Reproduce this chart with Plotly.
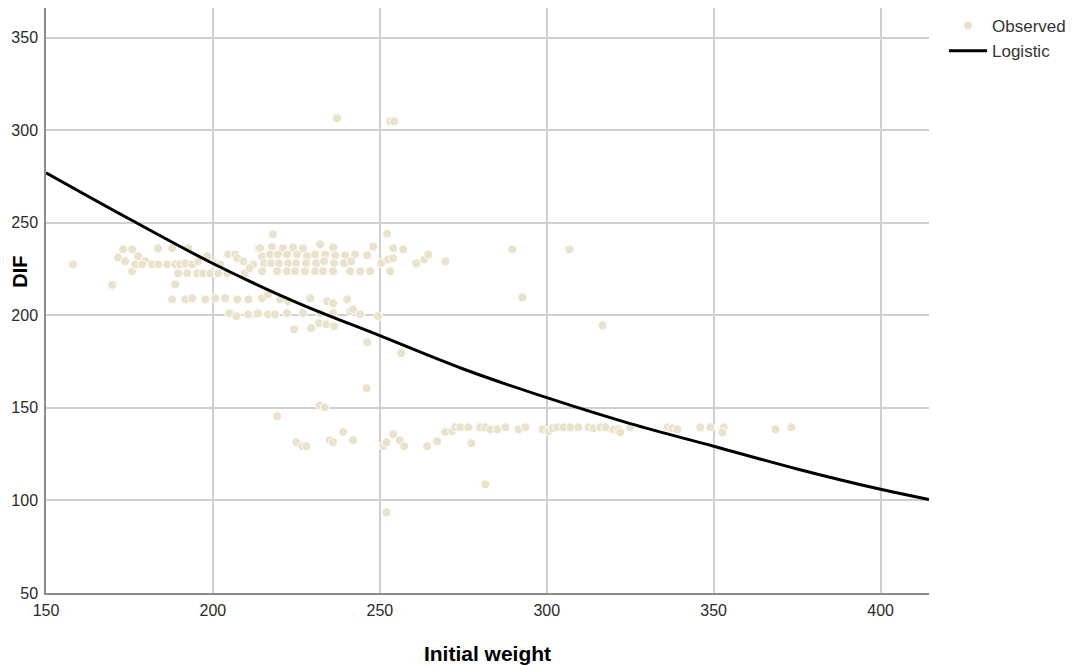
import plotly.graph_objects as go

# Observed points (Initial weight, DIF)
obs_x = [
    158.1, 169.8, 237.2, 253.1, 254.3, 289.7, 306.8, 292.7, 316.7, 256.4, 246.2, 246.0,
    219.2, 232.0, 233.5, 281.6, 252.0, 269.6,
    # upper band, left
    171.6, 173.7, 173.1, 175.8, 177.6, 179.7, 175.8, 176.7, 178.8, 181.8, 183.6, 183.6,
    187.8, 186.3, 188.7, 190.2, 191.7, 192.6, 193.8, 195.6, 198.3, 200.7, 202.2, 204.6,
    206.7, 207.3, 209.1, 212.1, 213.6, 189.6, 192.3, 195.3, 197.1, 199.2, 201.6, 204.3,
    188.7,
    # upper band, right
    218.0, 214.1, 217.7, 221.0, 224.0, 227.0, 232.1, 236.0, 214.7, 217.1, 219.5, 222.2,
    225.2, 228.2, 230.6, 233.6, 236.6, 239.6, 242.6, 246.2, 248.0, 252.2, 254.0, 257.0,
    215.3, 217.4, 219.8, 222.5, 224.9, 227.9, 230.9, 233.3, 236.3, 239.3, 241.4, 250.4,
    252.5, 254.0, 260.9, 263.3, 264.5, 214.7, 219.2, 222.2, 224.6, 227.6, 230.6, 233.0,
    236.0, 241.1, 244.1, 247.1, 253.1, 209.5, 211.0,
    # middle band
    187.8, 191.7, 193.8, 197.7, 200.7, 203.7, 207.3, 210.6, 204.9, 207.0, 210.6, 213.0,
    214.7, 216.5, 220.1, 222.5, 229.1, 234.2, 236.0, 240.2, 213.5, 216.5, 218.6, 222.2,
    227.0, 232.1, 236.0, 241.1, 244.1, 249.5, 242.0, 224.3, 229.4, 231.8, 233.9, 236.3,
    # lower band
    225.0, 226.7, 228.0, 235.0, 236.0, 239.0, 242.0, 251.0, 252.0, 254.0, 256.0, 257.3,
    264.2, 267.2, 269.6, 271.7, 272.6, 274.1, 276.5, 280.1, 281.6, 283.1, 285.2, 287.6,
    291.5, 293.6, 298.7, 300.5, 301.7, 303.2, 305.0, 307.1, 309.5, 312.5, 314.0, 316.0,
    318.2, 320.0, 277.4, 317.6, 321.5, 322.0, 325.0, 336.2, 337.6, 339.1, 346.0, 349.0,
    353.0, 352.6, 368.5, 373.3,
]
obs_y = [
    227.5, 216.5, 306.4, 304.8, 304.8, 235.6, 235.6, 209.7, 194.6, 179.5, 185.4, 160.6,
    145.5, 151.4, 150.3, 108.7, 93.6, 229.2,
    231.3, 229.2, 235.6, 235.6, 231.9, 229.2, 223.8, 227.5, 227.5, 227.5, 227.5, 236.2,
    236.2, 227.5, 227.5, 227.5, 228.0, 236.2, 227.5, 229.2, 231.9, 228.0, 227.5, 232.9,
    232.9, 230.8, 229.2, 227.5, 236.2, 222.7, 222.7, 222.7, 222.7, 222.7, 222.7, 222.7,
    216.7,
    243.7, 236.2, 237.1, 236.2, 236.7, 236.2, 238.3, 236.7, 231.9, 232.9, 232.9, 232.9,
    232.9, 231.9, 232.9, 232.9, 232.4, 232.4, 232.9, 232.4, 237.1, 244.1, 236.2, 235.6,
    228.1, 228.1, 228.1, 228.1, 228.1, 228.1, 228.1, 229.2, 228.1, 228.1, 229.2, 228.1,
    230.2, 230.8, 228.1, 230.2, 232.9, 223.8, 223.8, 223.8, 223.8, 223.8, 223.8, 223.8,
    223.8, 223.8, 223.8, 223.8, 223.8, 222.7, 225.5,
    208.6, 208.6, 209.2, 208.6, 209.2, 209.2, 208.6, 208.6, 201.1, 199.5, 200.5, 200.5,
    209.2, 211.3, 208.6, 207.6, 209.2, 207.6, 206.5, 208.6, 201.1, 200.5, 200.5, 201.1,
    201.1, 201.1, 201.1, 202.2, 200.5, 199.5, 203.2, 192.4, 193.0, 195.7, 195.1, 194.1,
    131.4, 129.3, 129.3, 132.5, 131.4, 137.0, 132.5, 129.3, 131.4, 135.7, 132.5, 129.3,
    129.3, 132.0, 137.0, 137.5, 139.5, 139.5, 139.5, 139.5, 139.5, 138.4, 138.4, 139.5,
    138.4, 139.5, 138.4, 137.4, 139.0, 139.5, 139.5, 139.5, 139.5, 139.5, 139.0, 139.5,
    139.0, 138.4, 130.9, 139.5, 138.4, 136.8, 139.5, 139.5, 139.0, 138.4, 139.5, 139.5,
    139.5, 136.8, 138.4, 139.5,
]

# Logistic fit curve
curve_x = [150, 175, 200, 225, 250, 275, 300, 325, 350, 375, 400, 414.5]
curve_y = [277, 252, 228, 207, 189, 171, 155.5, 141.5, 129.3, 117, 106, 100.5]

x_ticks = [150, 200, 250, 300, 350, 400]
y_ticks = [50, 100, 150, 200, 250, 300, 350]

fig = go.Figure()
fig.add_trace(go.Scatter(
    x=obs_x, y=obs_y, mode="markers", name="Observed",
    marker=dict(size=9, color="#EAE2CB", line=dict(color="white", width=1)),
))
fig.add_trace(go.Scatter(
    x=curve_x, y=curve_y, mode="lines", name="Logistic",
    line=dict(color="black", width=3, shape="spline"),
))

fig.add_annotation(
    text="<b>DIF</b>", xref="paper", yref="paper", x=-0.029, y=0.55,
    xanchor="center", yanchor="middle", textangle=-90, showarrow=False,
    font=dict(size=20, color="black"),
)

fig.update_layout(
    width=1065, height=658,
    margin=dict(l=38, r=144, t=0, b=73),
    paper_bgcolor="white", plot_bgcolor="white",
    font=dict(family="Liberation Sans, Arial, sans-serif", color="#333333", size=16),
    legend=dict(x=1.017, y=1.0, xanchor="left", yanchor="top",
                font=dict(size=17, color="#333333"), itemwidth=38,
                tracegroupgap=0, bgcolor="rgba(0,0,0,0)"),
    xaxis=dict(range=[150, 414.5], tickvals=x_ticks, showgrid=True,
               gridcolor="#CFCFCF", gridwidth=1.5, zeroline=False,
               showline=True, linecolor="#8C8C8C", linewidth=1.5,
               ticks="", tickfont=dict(size=16, color="#2a2a2a"), automargin=False,
               ticklabelstandoff=2,
               title=dict(text="<b>Initial weight</b>", font=dict(size=21, color="black"), standoff=28)),
    yaxis=dict(range=[50, 366], tickvals=y_ticks, showgrid=True,
               gridcolor="#CFCFCF", gridwidth=1.5, zeroline=False,
               showline=True, linecolor="#8C8C8C", linewidth=1.5,
               ticks="", tickfont=dict(size=16, color="#2a2a2a"), automargin=False,
               ticklabelstandoff=3),
)

fig.write_html("out.html")
